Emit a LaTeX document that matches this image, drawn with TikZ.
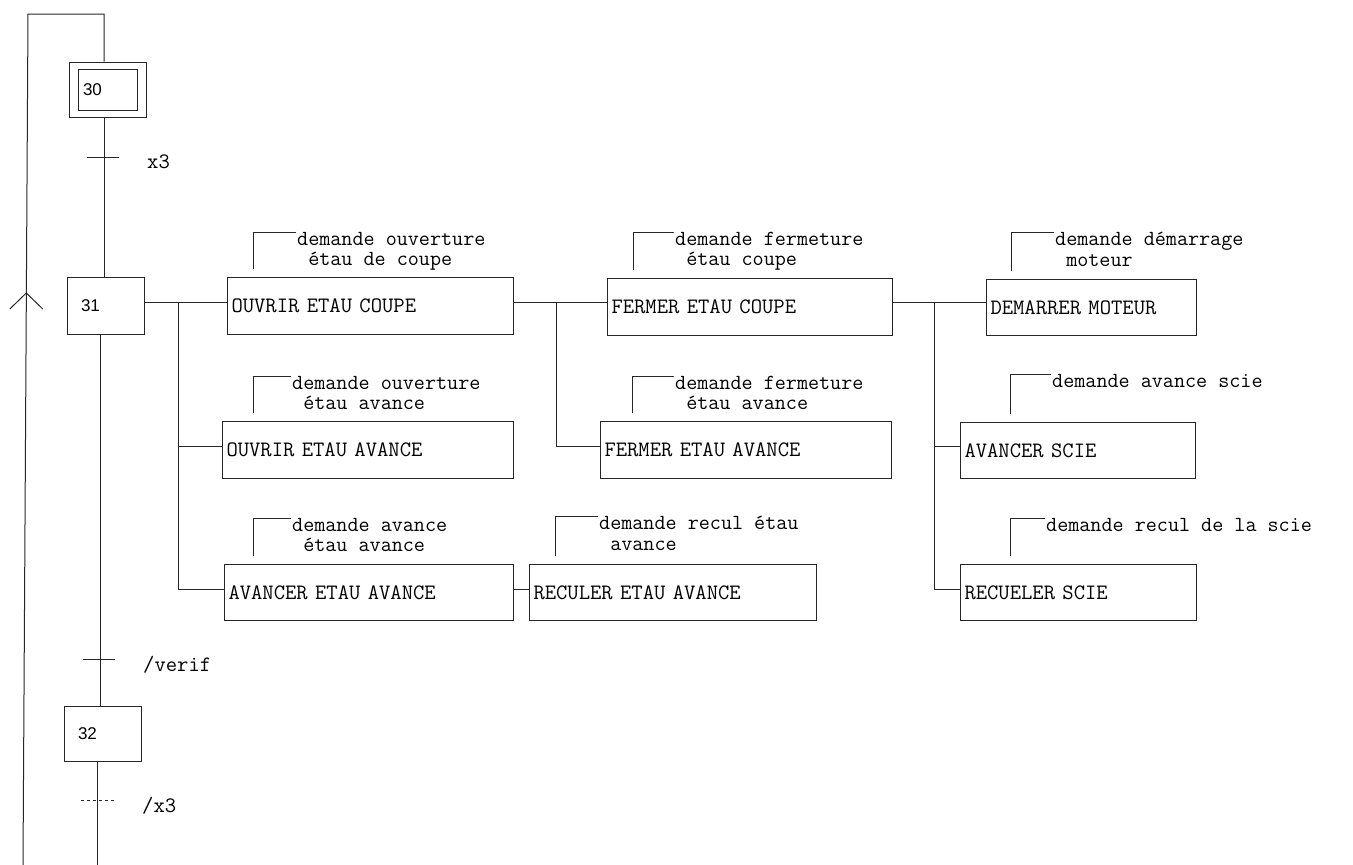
\documentclass[tikz,border=0pt]{standalone}
\usepackage{fontspec}
\newfontfamily\stepfont{Liberation Sans}
\usetikzlibrary{calc}
\begin{document}
\begin{tikzpicture}[x=1pt,y=-1pt,
  ln/.style={line width=1pt, draw=black!85},
  mono/.style={font=\fontsize{22}{18}\selectfont\ttfamily},
  stepbox/.style={ln, rectangle, minimum width=77pt, text width=49pt, inner xsep=14pt, inner ysep=0pt, align=left, font=\stepfont\fontsize{17}{17}\selectfont},
  action/.style={ln, rectangle, anchor=north west, inner xsep=4pt, inner ysep=0pt, align=left, mono},
  cmt/.style={font=\fontsize{21.5}{20.5}\selectfont\ttfamily, anchor=north west, inner sep=0pt, align=left},
  lbl/.style={mono, anchor=base west, inner sep=0pt}]
\useasboundingbox (0,0) rectangle (1353,865);

% steps
\node[stepbox, minimum height=55pt] (s30) at (107.5,89.5) {30};
\node[ln, rectangle, minimum width=59pt, minimum height=41pt, inner sep=0pt] (s30i) at (107.5,89.5) {};
\node[stepbox, minimum height=57pt] (s31) at (105.5,305.5) {31};
\node[stepbox, minimum height=55pt] (s32) at (102.5,733.5) {32};

% axis coordinates
\coordinate (ax1) at (104,0);
\coordinate (ax2) at (100,0);
\coordinate (ax3) at (97,0);
\coordinate (top) at (104,14);
\coordinate (ltop) at (28,14);
\coordinate (lbot) at (23,865);
\coordinate (mbot) at (97,865);

\draw[ln] (s30.north -| ax1) -- (top) -- (ltop) -- (lbot);
\draw[ln] (s30.south -| ax1) -- (s31.north -| ax1);
\draw[ln] (s31.south -| ax2) -- (s32.north -| ax2);
\draw[ln] (s32.south -| ax3) -- (mbot);

% upward arrow on the loop
\coordinate (arr) at (26.3,293);
\draw[ln] ($(arr)+(-16.5,16)$) -- (arr) -- ($(arr)+(16.5,16)$);

% transitions
\coordinate (t1) at (103,157);
\draw[ln] ($(t1)+(-16,0)$) -- ($(t1)+(16,0)$);
\node[lbl] (l1) at (147,168) {x3};
\coordinate (t2) at (99,659);
\draw[ln] ($(t2)+(-16,0)$) -- ($(t2)+(16,0)$);
\node[lbl] (l2) at (143,671) {/verif};
\coordinate (t3) at (97,800);
\draw[ln, dash pattern=on 3pt off 3pt] ($(t3)+(-16.5,0)$) -- ($(t3)+(16.5,0)$);
\node[lbl] (l3) at (142,812) {/x3};

% action boxes
\node[action, text width=278pt, minimum height=57pt] (a1) at (227,277) {OUVRIR ETAU COUPE};
\node[action, text width=283pt, minimum height=57pt] (a2) at (222,421) {OUVRIR ETAU AVANCE};
\node[action, text width=281pt, minimum height=56pt] (a3) at (224,564) {AVANCER ETAU AVANCE};
\node[action, text width=277pt, minimum height=57pt] (b1) at (607,278) {FERMER ETAU COUPE};
\node[action, text width=283pt, minimum height=57pt] (b2) at (600,421) {FERMER ETAU AVANCE};
\node[action, text width=279pt, minimum height=56pt] (b3) at (529,564) {RECULER ETAU AVANCE};
\node[action, text width=202pt, minimum height=56pt] (c1) at (986,279) {DEMARRER MOTEUR};
\node[action, text width=227pt, minimum height=56pt] (c2) at (960,422) {AVANCER SCIE};
\node[action, text width=228pt, minimum height=56pt] (c3) at (960,564) {RECUELER SCIE};

% comments
\node[cmt] (k1) at (297,232) {demande ouverture\\\hphantom{x}étau de coupe};
\node[cmt] (k2) at (292,376) {demande ouverture\\\hphantom{x}étau avance};
\node[cmt] (k3) at (292,518) {demande avance\\\hphantom{x}étau avance};
\node[cmt] (m1) at (675,232) {demande fermeture\\\hphantom{x}étau coupe};
\node[cmt] (m2) at (675,376) {demande fermeture\\\hphantom{x}étau avance};
\node[cmt] (m3) at (599,516) {demande recul étau\\\hphantom{x}avance};
\node[cmt] (n1) at (1055,232) {demande démarrage\\\hphantom{x}moteur};
\node[cmt] (n2) at (1052,374) {demande avance scie};
\node[cmt] (n3) at (1046,518) {demande recul de la scie};

\draw[ln] ([xshift=26pt,yshift=8pt]a1.north west) |- ([xshift=-1pt]k1.north west);
\draw[ln] ([xshift=31pt,yshift=8pt]a2.north west) |- ([xshift=-1pt]k2.north west);
\draw[ln] ([xshift=29pt,yshift=8pt]a3.north west) |- ([xshift=-1pt]k3.north west);
\draw[ln] ([xshift=26pt,yshift=8pt]b1.north west) |- ([xshift=-1pt]m1.north west);
\draw[ln] ([xshift=32pt,yshift=8pt]b2.north west) |- ([xshift=-1pt]m2.north west);
\draw[ln] ([xshift=26pt,yshift=8pt]b3.north west) |- ([xshift=-1pt]m3.north west);
\draw[ln] ([xshift=25pt,yshift=8pt]c1.north west) |- ([xshift=-1pt]n1.north west);
\draw[ln] ([xshift=50pt,yshift=8pt]c2.north west) |- ([xshift=-1pt]n2.north west);
\draw[ln] ([xshift=50pt,yshift=8pt]c3.north west) |- ([xshift=-1pt]n3.north west);

% branch connectors
\coordinate (r1) at (0,302);
\coordinate (r2) at (0,446);
\coordinate (r3) at (0,589);
\coordinate (j1) at (178,0);
\coordinate (j2) at (556,0);
\coordinate (j3) at (934,0);

\draw[ln] (s31.east |- r1) -- (a1.west |- r1);
\draw[ln] (j1 |- r1) -- (j1 |- r3) -- (a3.west |- r3);
\draw[ln] (j1 |- r2) -- (a2.west |- r2);
\draw[ln] (a1.east |- r1) -- (b1.west |- r1);
\draw[ln] (j2 |- r1) -- (j2 |- r2) -- (b2.west |- r2);
\draw[ln] (a3.east |- r3) -- (b3.west |- r3);
\draw[ln] (b1.east |- r1) -- (c1.west |- r1);
\draw[ln] (j3 |- r1) -- (j3 |- r3) -- (c3.west |- r3);
\draw[ln] (j3 |- r2) -- (c2.west |- r2);
\end{tikzpicture}
\end{document}
